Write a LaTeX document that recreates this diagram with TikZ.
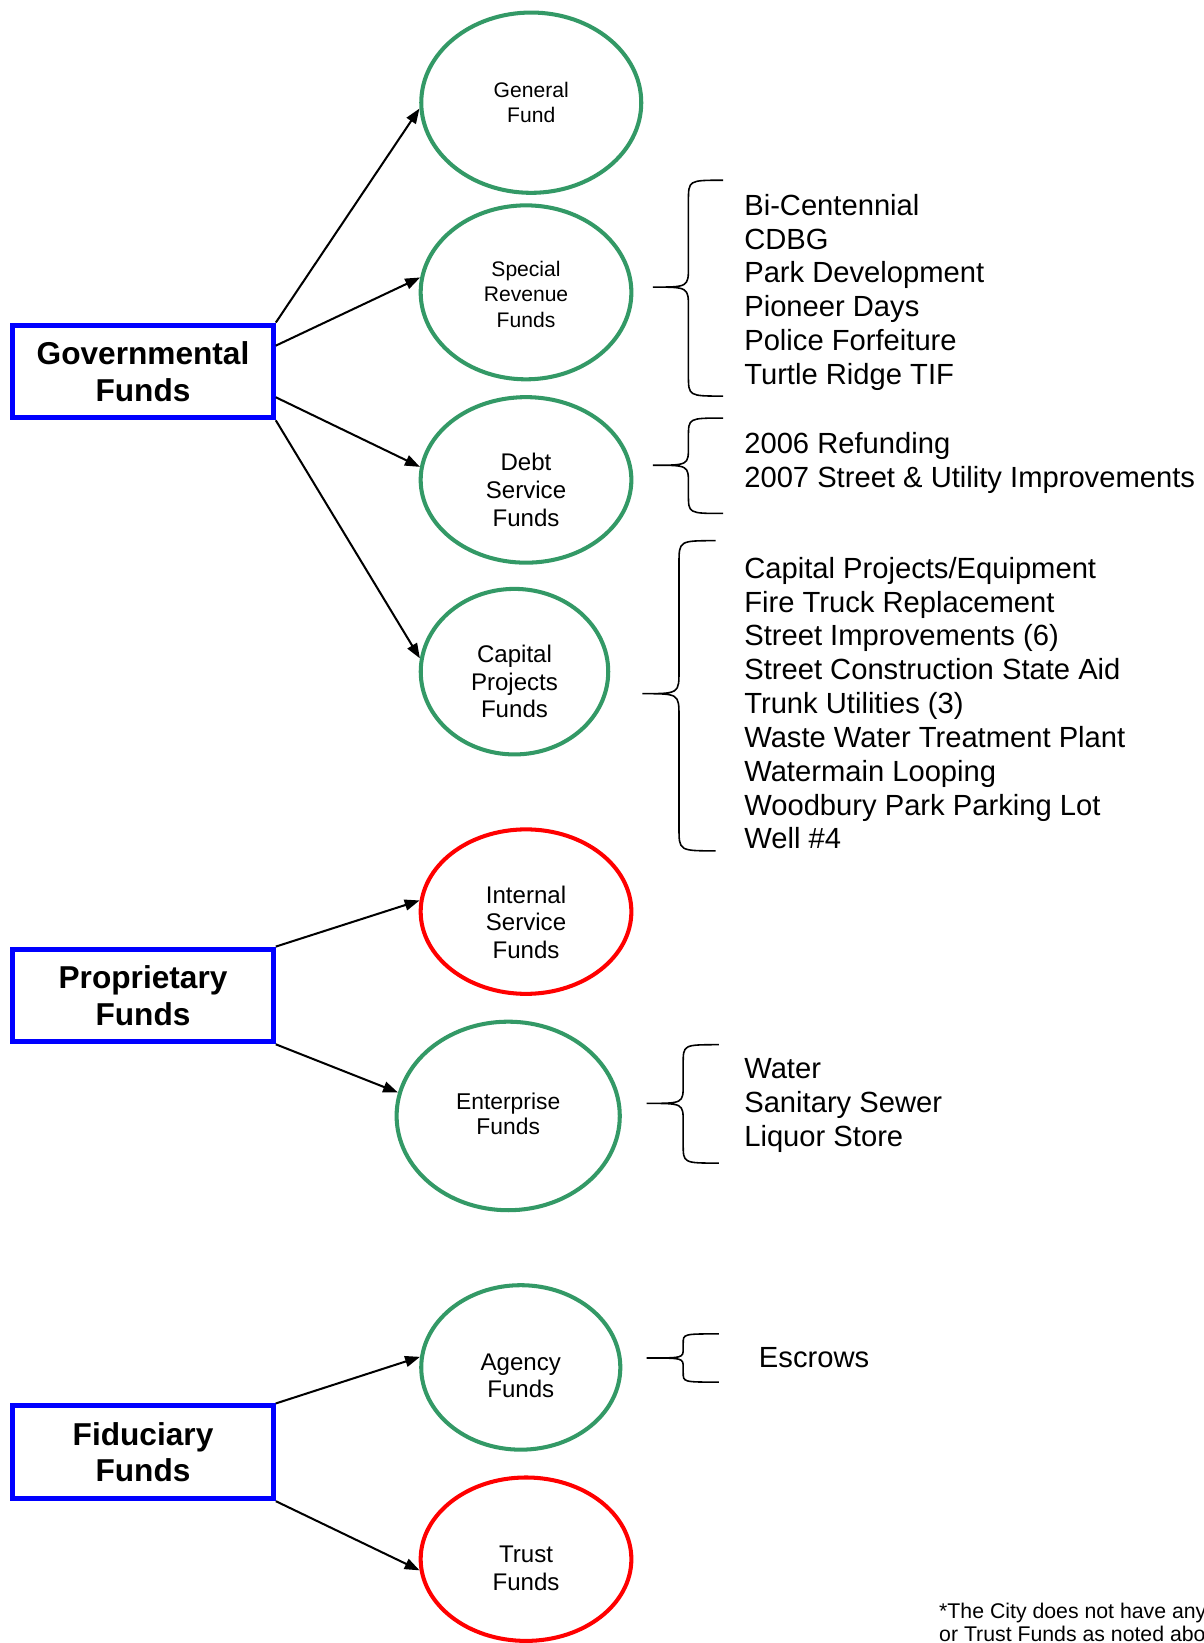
\documentclass[tikz,border=0pt]{standalone}
\usepackage{fontspec}
\setmainfont{Liberation Sans}
\usetikzlibrary{shapes.geometric,arrows.meta}
\definecolor{fundgreen}{RGB}{51,153,102}
\definecolor{fundred}{RGB}{255,0,0}
\definecolor{fundblue}{RGB}{0,0,255}

\begin{document}
\begin{tikzpicture}[x=0.5963pt,y=-0.5963pt,
	fundtype/.style={draw=fundblue,line width=2.8pt,minimum width=148.3pt,minimum height=52.8pt,align=center,font=\fontsize{18pt}{20.9pt}\selectfont\bfseries},
	fund/.style={ellipse,line width=2.3pt,inner sep=0pt},
	fundtext/.style={align=center,inner sep=0pt},
	textsmall/.style={font=\fontsize{12pt}{14.3pt}\selectfont},
	textmid/.style={font=\fontsize{13pt}{14.4pt}\selectfont},
	textbig/.style={font=\fontsize{13.7pt}{15.7pt}\selectfont},
	flow/.style={line width=1.15pt,-{Triangle[length=8.5pt,width=6.2pt]}},
	bracket/.style={line width=0.9pt},
	items/.style={anchor=west,align=left,inner sep=0pt,font=\fontsize{16.6pt}{19.25pt}\selectfont}]
		\path[fill=white] (0,0) rectangle (1149,1568);
		\useasboundingbox (0,0) rectangle (1149,1568);

		% BLOCKS
		\node[fundtype] (gov) at (136.5,354.5) {Governmental\\Funds};
		\node[fundtype] (prop) at (136.5,950) {Proprietary\\Funds};
		\node[fundtype] (fid) at (136.5,1386) {Fiduciary\\Funds};

		% FUNDS
		\node[fund,draw=fundgreen,minimum width=125.2pt,minimum height=102.6pt] (gen) at (507,98) {};
		\node[fundtext,textsmall] (gen-t) at (507,98) {General\\Fund};
		\node[fund,draw=fundgreen,minimum width=119.9pt,minimum height=99pt] (spec) at (502,279) {};
		\node[fundtext,textsmall] (spec-t) at (502,281) {Special\\Revenue\\Funds};
		\node[fund,draw=fundgreen,minimum width=119.9pt,minimum height=94.2pt] (debt) at (502,458) {};
		\node[fundtext,textbig] (debt-t) at (502,467.5) {Debt\\Service\\Funds};
		\node[fund,draw=fundgreen,minimum width=106.7pt,minimum height=94.2pt] (cap) at (491,641) {};
		\node[fundtext,textbig] (cap-t) at (491,650.5) {Capital\\Projects\\Funds};
		\node[fund,draw=fundred,minimum width=119.9pt,minimum height=93.6pt] (intl) at (502,870) {};
		\node[fundtext,textbig] (intl-t) at (502,880) {Internal\\Service\\Funds};
		\node[fund,draw=fundgreen,minimum width=127pt,minimum height=107.3pt] (ent) at (485,1065) {};
		\node[fundtext,textmid] (ent-t) at (485,1063) {Enterprise\\Funds};
		\node[fund,draw=fundgreen,minimum width=113.3pt,minimum height=93.6pt] (agcy) at (497,1305) {};
		\node[fundtext,textbig] (agcy-t) at (497,1313) {Agency\\Funds};
		\node[fund,draw=fundred,minimum width=119.9pt,minimum height=93pt] (trust) at (502,1488) {};
		\node[fundtext,textbig] (trust-t) at (502,1496.5) {Trust\\Funds};

		% ARROWS
		\draw[flow] (gov.north east) -- (gen.183);
		\draw[flow] (gov.11) -- (spec.172);
		\draw[flow] (gov.-11) -- (debt.173);
		\draw[flow] (gov.south east) -- (cap.172);
		\draw[flow] (prop.north east) -- (intl.174);
		\draw[flow] (prop.south east) -- (ent.168);
		\draw[flow] (fid.north east) -- (agcy.174);
		\draw[flow] (fid.south east) -- (trust.186);

		% BRACES
		\draw[bracket] (690,172) .. controls (657,172) .. (657,192) -- (657,254) .. controls (657,274) .. (623,274) .. controls (657,274) .. (657,294) -- (657,358) .. controls (657,378) .. (690,378);
		\draw[bracket] (690,399) .. controls (657,399) .. (657,417) -- (657,426) .. controls (657,444) .. (623,444) .. controls (657,444) .. (657,462) -- (657,472) .. controls (657,490) .. (690,490);
		\draw[bracket] (683,516) .. controls (648,516) .. (648,538) -- (648,640) .. controls (648,662) .. (613,662) .. controls (648,662) .. (648,684) -- (648,790) .. controls (648,812) .. (683,812);
		\draw[bracket] (686,997) .. controls (652,997) .. (652,1015) -- (652,1035) .. controls (652,1053) .. (617,1053) .. controls (652,1053) .. (652,1071) -- (652,1092) .. controls (652,1110) .. (686,1110);
		\draw[bracket] (686,1273) .. controls (652,1273) .. (652,1282) -- (652,1287) .. controls (652,1296) .. (617,1296) .. controls (652,1296) .. (652,1305) -- (652,1310) .. controls (652,1319) .. (686,1319);

		% LISTS
		\node[items] (spec-list) at (710,279) {Bi-Centennial\\CDBG\\Park Development\\Pioneer Days\\Police Forfeiture\\Turtle Ridge TIF};
		\node[items] (debt-list) at (710,442) {2006 Refunding\\2007 Street \& Utility Improvements};
		\node[items] (cap-list) at (710,671) {Capital Projects/Equipment\\Fire Truck Replacement\\Street Improvements (6)\\Street Construction State Aid\\Trunk Utilities (3)\\Waste Water Treatment Plant\\Watermain Looping\\Woodbury Park Parking Lot\\Well \#4};
		\node[items] (ent-list) at (710,1055) {Water\\Sanitary Sewer\\Liquor Store};
		\node[items] (agcy-list) at (724,1296) {Escrows};

		% NOTE
		\node[anchor=west,align=left,inner sep=0pt,font=\fontsize{12.1pt}{13.2pt}\selectfont] (note) at (896,1548) {*The City does not have any\\or Trust Funds as noted above};
	\end{tikzpicture}
\end{document}
